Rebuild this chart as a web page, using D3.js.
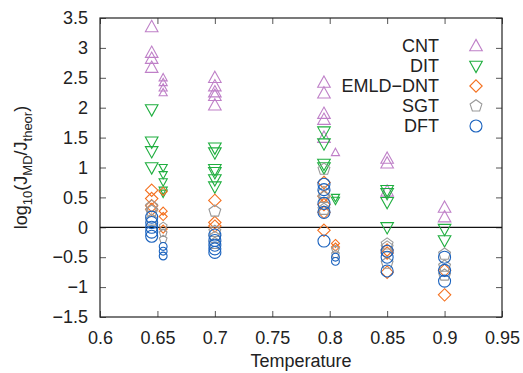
<!DOCTYPE html>
<html>
<head>
<meta charset="utf-8">
<script src="https://cdn.jsdelivr.net/npm/d3@7"></script>
<style>
  body { margin: 0; background: #fff; }
  svg { font-family: 'Liberation Sans', Arial, sans-serif; }
</style>
</head>
<body>
<div id="chart"></div>
<script>
const width = 523, height = 373;
const margin = { top: 18, right: 21, bottom: 56, left: 100 };

const xTicks = [0.6, 0.65, 0.7, 0.75, 0.8, 0.85, 0.9, 0.95];
const yTicks = [-1.5, -1, -0.5, 0, 0.5, 1, 1.5, 2, 2.5, 3, 3.5];
const smallTemps = [0.655, 0.805]; // drawn with smaller markers

// [temperature, log10(J_MD/J_theor)]
const cnt = [
  [0.645, 3.35], [0.645, 2.92], [0.645, 2.82], [0.645, 2.67],
  [0.655, 2.5], [0.655, 2.42], [0.655, 2.33], [0.655, 2.25],
  [0.7, 2.5], [0.7, 2.36], [0.7, 2.26], [0.7, 2.2], [0.7, 2.04],
  [0.795, 2.42], [0.795, 2.24], [0.795, 1.9], [0.795, 1.8], [0.795, 1.5],
  [0.805, 1.25],
  [0.85, 1.15], [0.85, 1.07], [0.85, 0.6],
  [0.9, 0.33], [0.9, 0.17],
];
const dit = [
  [0.645, 1.97], [0.645, 1.43], [0.645, 1.27], [0.645, 1.0],
  [0.655, 1.0], [0.655, 0.88], [0.655, 0.76], [0.655, 0.62], [0.655, 0.57],
  [0.7, 1.33], [0.7, 1.25], [0.7, 0.97], [0.7, 0.92], [0.7, 0.8], [0.7, 0.68],
  [0.795, 1.6], [0.795, 1.4], [0.795, 1.06], [0.795, 1.0],
  [0.805, 0.5], [0.805, 0.45],
  [0.85, 0.62], [0.85, 0.57], [0.85, 0.42], [0.85, 0.0],
  [0.9, -0.03], [0.9, -0.22],
];
const emld = [
  [0.645, 0.62], [0.645, 0.48], [0.645, 0.36], [0.645, 0.3],
  [0.655, 0.6], [0.655, 0.27], [0.655, 0.18], [0.655, -0.03],
  [0.7, 0.45], [0.7, 0.08], [0.7, 0.02],
  [0.795, 0.75], [0.795, 0.52], [0.795, 0.38], [0.795, 0.25], [0.795, -0.05],
  [0.805, -0.27], [0.805, -0.33],
  [0.85, -0.38], [0.85, -0.43], [0.85, -0.75],
  [0.9, -0.72], [0.9, -1.13],
];
const sgt = [
  [0.645, 0.35], [0.645, 0.27], [0.645, 0.12],
  [0.655, 0.02], [0.655, -0.1], [0.655, -0.2],
  [0.7, 0.27], [0.7, -0.07], [0.7, -0.17], [0.7, -0.27],
  [0.795, 0.97], [0.795, 0.58], [0.795, 0.5], [0.795, 0.3],
  [0.805, -0.37], [0.805, -0.45],
  [0.85, -0.28], [0.85, -0.33], [0.85, -0.6],
  [0.9, -0.45], [0.9, -0.65], [0.9, -0.8],
];
const dft = [
  [0.645, 0.17], [0.645, 0.08], [0.645, 0.0], [0.645, -0.08], [0.645, -0.15],
  [0.655, -0.32], [0.655, -0.4], [0.655, -0.48],
  [0.7, -0.13], [0.7, -0.22], [0.7, -0.3], [0.7, -0.36], [0.7, -0.42],
  [0.795, 0.72], [0.795, 0.63], [0.795, 0.4], [0.795, 0.25], [0.795, -0.23],
  [0.805, -0.5], [0.805, -0.57],
  [0.85, -0.4], [0.85, -0.5], [0.85, -0.73],
  [0.9, -0.5], [0.9, -0.72], [0.9, -0.9],
];

const seriesNames = ['CNT', 'DIT', 'EMLD\u2212DNT', 'SGT', 'DFT'];
const seriesData = [cnt, dit, emld, sgt, dft];
const seriesColors = ['#bf80c8', '#1fae3f', '#f4701e', '#999999', '#1a62be'];
const seriesShapes = ['up', 'down', 'diamond', 'pentagon', 'circle'];

// Marker path centred on 0,0 with half-size r
const shapePath = (shape, r) => {
  const p = d3.path();
  if (shape === 'circle') {
    p.arc(0, 0, r, 0, 2 * Math.PI);
  } else if (shape === 'up' || shape === 'down') {
    const s = shape === 'up' ? 1 : -1;
    p.moveTo(0, -s * r * 1.05);
    p.lineTo(r, s * r * 0.75);
    p.lineTo(-r, s * r * 0.75);
    p.closePath();
  } else if (shape === 'diamond') {
    p.moveTo(0, -r);
    p.lineTo(r, 0);
    p.lineTo(0, r);
    p.lineTo(-r, 0);
    p.closePath();
  } else {
    for (let i = 0; i < 5; i++) {
      const a = -Math.PI / 2 + (i * 2 * Math.PI) / 5;
      if (i === 0) p.moveTo(r * Math.cos(a), r * Math.sin(a));
      else p.lineTo(r * Math.cos(a), r * Math.sin(a));
    }
    p.closePath();
  }
  return p.toString();
};
const markerSize = { up: 6.3, down: 6.3, diamond: 6.2, pentagon: 6.2, circle: 6 };
const fontSize = '18px';

const svg = d3.select('#chart').append('svg')
  .attr('width', width).attr('height', height);

const x = d3.scaleLinear().domain([0.6, 0.95])
  .range([margin.left, width - margin.right]);
const y = d3.scaleLinear().domain([-1.5, 3.5])
  .range([height - margin.bottom, margin.top]);

const fmt = (d) => String(d).replace('-', '\u2212');

// Axes with inward ticks on all four sides
const axisColor = '#222';
svg.append('g')
  .attr('transform', `translate(0,${y(-1.5)})`)
  .call(d3.axisBottom(x).tickValues(xTicks).tickSize(-6).tickPadding(14).tickFormat(fmt))
  .call((g) => g.select('.domain').remove());
svg.append('g')
  .attr('transform', `translate(0,${y(3.5)})`)
  .call(d3.axisTop(x).tickValues(xTicks).tickSize(-6).tickFormat(''))
  .call((g) => g.select('.domain').remove());
svg.append('g')
  .attr('transform', `translate(${x(0.6)},0)`)
  .call(d3.axisLeft(y).tickValues(yTicks).tickSize(-6).tickPadding(12).tickFormat(fmt))
  .call((g) => g.select('.domain').remove());
svg.append('g')
  .attr('transform', `translate(${x(0.95)},0)`)
  .call(d3.axisRight(y).tickValues(yTicks).tickSize(-6).tickFormat(''))
  .call((g) => g.select('.domain').remove());

svg.selectAll('.tick line').attr('stroke', '#555');
svg.selectAll('.tick text')
  .attr('fill', '#222')
  .style('font-size', fontSize)
  .style('font-family', "'Liberation Sans', Arial, sans-serif");

// Frame
svg.append('rect')
  .attr('x', x(0.6)).attr('y', y(3.5))
  .attr('width', x(0.95) - x(0.6)).attr('height', y(-1.5) - y(3.5))
  .attr('fill', 'none').attr('stroke', axisColor).attr('stroke-width', 1.2);

// Zero line
svg.append('line')
  .attr('x1', x(0.6)).attr('x2', x(0.95))
  .attr('y1', y(0)).attr('y2', y(0))
  .attr('stroke', '#111').attr('stroke-width', 1.2);

// Points
seriesData.forEach((data, i) => {
  const shape = seriesShapes[i];
  svg.append('g')
    .selectAll('path')
    .data(data)
    .enter()
    .append('path')
    .attr('transform', (d) => `translate(${x(d[0])},${y(d[1])})`)
    .attr('d', (d) => shapePath(shape, smallTemps.includes(d[0]) ? markerSize[shape] * 0.65 : markerSize[shape]))
    .attr('fill', 'none')
    .attr('stroke', seriesColors[i])
    .attr('stroke-width', 1.1);
});

// Legend
const legend = svg.append('g');
seriesNames.forEach((name, i) => {
  const ly = 46 + i * 20;
  legend.append('text')
    .attr('x', 439).attr('y', ly)
    .attr('dy', '0.35em')
    .attr('text-anchor', 'end')
    .attr('fill', '#222')
    .style('font-size', fontSize)
    .text(name);
  legend.append('path')
    .attr('transform', `translate(476,${ly})`)
    .attr('d', shapePath(seriesShapes[i], markerSize[seriesShapes[i]]))
    .attr('fill', 'none')
    .attr('stroke', seriesColors[i])
    .attr('stroke-width', 1.1);
});

// Axis titles
svg.append('text')
  .attr('x', (x(0.6) + x(0.95)) / 2).attr('y', 367)
  .attr('text-anchor', 'middle')
  .attr('fill', '#222')
  .style('font-size', fontSize)
  .text('Temperature');

const yl = svg.append('text')
  .attr('transform', `translate(27,${(y(-1.5) + y(3.5)) / 2}) rotate(-90)`)
  .attr('text-anchor', 'middle')
  .attr('fill', '#222')
  .style('font-size', fontSize);
yl.append('tspan').text('log');
yl.append('tspan').attr('dy', 5).style('font-size', '13px').text('10');
yl.append('tspan').attr('dy', -5).text('(J');
yl.append('tspan').attr('dy', 5).style('font-size', '13px').text('MD');
yl.append('tspan').attr('dy', -5).text('/J');
yl.append('tspan').attr('dy', 5).style('font-size', '13px').text('theor');
yl.append('tspan').attr('dy', -5).text(')');
</script>
</body>
</html>
